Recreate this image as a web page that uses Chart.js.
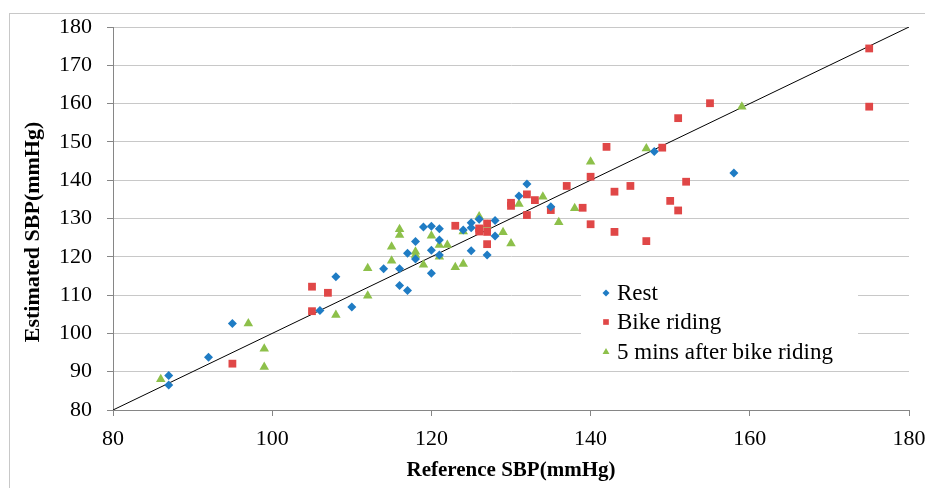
<!DOCTYPE html>
<html>
<head>
<meta charset="utf-8">
<script src="https://cdn.jsdelivr.net/npm/chart.js@4.4.1/dist/chart.umd.min.js"></script>
<style>
  html, body { margin: 0; padding: 0; background: #fff; }
  #wrap { width: 925px; height: 488px; position: relative; }
</style>
</head>
<body>
<div id="wrap"><canvas id="chart"></canvas></div>
<script>
// values
const seriesNames = ['Rest', 'Bike riding', '5 mins after bike riding'];
const xTitle = 'Reference SBP(mmHg)';
const yTitle = 'Estimated SBP(mmHg)';

const restX = [87, 87, 92, 95, 106, 108, 110, 114, 116, 116, 117, 117, 118, 118, 119, 120, 121, 121, 120, 121, 120, 124, 125, 125, 126, 127, 125, 128, 128, 131, 132, 135, 148, 158];
const restY = [89, 86.5, 93.8, 102.6, 106, 114.8, 106.9, 116.9, 116.9, 112.5, 111.2, 120.9, 124, 119.4, 127.8, 128, 127.3, 124.4, 121.7, 120.5, 115.7, 127, 128.9, 127.6, 129.8, 120.5, 121.6, 129.5, 125.4, 135.9, 139, 133.1, 147.5, 141.9];

const bikeX = [95, 105, 107, 105, 123, 126, 126, 127, 127, 127, 130, 130, 132, 132, 133, 135, 137, 139, 140, 140, 142, 143, 143, 145, 147, 149, 150, 151, 151, 152, 155, 175, 175];
const bikeY = [92.1, 112.2, 110.6, 105.8, 128.1, 127.4, 126.6, 128.7, 126.5, 123.3, 134.1, 133.3, 136.3, 130.9, 134.8, 132.2, 138.5, 132.8, 140.9, 128.5, 148.7, 137, 126.5, 138.5, 124.1, 148.5, 134.6, 156.2, 132.1, 139.6, 160.1, 174.4, 159.2];

const afterX = [86, 97, 99, 99, 108, 112, 112, 115, 115, 116, 116, 118, 118, 119, 120, 121, 121, 122, 123, 124, 124, 126, 127, 129, 130, 131, 134, 136, 138, 140, 147, 159];
const afterY = [88, 102.6, 96, 91.2, 104.8, 117, 109.8, 119, 122.6, 127.2, 125.7, 121.3, 120.5, 117.9, 125.5, 123.1, 120, 123.1, 117.3, 126.6, 118.1, 130.5, 128.3, 126.4, 123.5, 133.8, 135.7, 129, 132.7, 144.8, 148.3, 159.2];

const lineX = [80, 180];
const lineY = [80, 180];

const xTicks = [80, 100, 120, 140, 160, 180];
const yTicks = [80, 90, 100, 110, 120, 130, 140, 150, 160, 170, 180];

const toPoints = (xs, ys) => xs.map((x, i) => ({ x, y: ys[i] }));

const serif = "'Liberation Serif', 'Times New Roman', serif";

// outer light grey frame behind the chart
const framePlugin = {
  id: 'frame',
  beforeDraw(chart) {
    const ctx = chart.ctx;
    ctx.save();
    ctx.fillStyle = '#fff';
    ctx.fillRect(0, 0, chart.width, chart.height);
    ctx.strokeStyle = '#c8c8c8';
    ctx.lineWidth = 1;
    ctx.strokeRect(9.5, 13.5, chart.width, chart.height);
    ctx.restore();
  },
  // y title sits a bit below the plot middle in the original
  afterDraw(chart) {
    const ctx = chart.ctx;
    ctx.save();
    ctx.translate(33, 232);
    ctx.rotate(-Math.PI / 2);
    ctx.font = 'bold 22px ' + serif;
    ctx.fillStyle = '#000';
    ctx.textAlign = 'center';
    ctx.textBaseline = 'middle';
    ctx.fillText(yTitle, 0, 0);
    ctx.restore();
  }
};

// legend box sitting inside the plot, lower right
const boxLegend = {
  id: 'boxLegend',
  afterDatasetsDraw(chart) {
    const ctx = chart.ctx;
    ctx.save();
    ctx.fillStyle = '#fff';
    ctx.fillRect(581, 280, 277, 86);
    ctx.font = '23px ' + serif;
    ctx.textBaseline = 'middle';
    const rows = [293, 322, 352];
    [0, 1, 2].forEach((i) => {
      const ds = chart.data.datasets[i];
      ctx.fillStyle = ds.backgroundColor;
      ctx.strokeStyle = ds.borderColor;
      Chart.helpers.drawPoint(ctx, {
        pointStyle: ds.pointStyle,
        radius: i === 0 ? 3.5 : 4,
        borderWidth: 0,
        rotation: 0
      }, 606, rows[i]);
      ctx.fillStyle = '#000';
      ctx.fillText(ds.label, 617, rows[i] + 1);
    });
    ctx.restore();
  }
};

new Chart(document.getElementById('chart'), {
  type: 'scatter',
  data: {
    datasets: [
      {
        label: seriesNames[0],
        data: toPoints(restX, restY),
        pointStyle: 'rectRot',
        pointRadius: 4.5,
        backgroundColor: '#1f7cc4',
        borderColor: '#1f7cc4',
        borderWidth: 0
      },
      {
        label: seriesNames[1],
        data: toPoints(bikeX, bikeY),
        pointStyle: 'rect',
        pointRadius: 5.5,
        backgroundColor: '#e04747',
        borderColor: '#e04747',
        borderWidth: 0
      },
      {
        label: seriesNames[2],
        data: toPoints(afterX, afterY),
        pointStyle: 'triangle',
        pointRadius: 5.5,
        backgroundColor: '#8dc04a',
        borderColor: '#8dc04a',
        borderWidth: 0
      },
      {
        type: 'line',
        label: 'y = x',
        data: toPoints(lineX, lineY),
        borderColor: '#000',
        borderWidth: 1,
        pointRadius: 0,
        fill: false
      }
    ]
  },
  options: {
    responsive: true,
    maintainAspectRatio: false,
    animation: false,
    layout: { padding: { left: 10, top: 27, right: 16, bottom: 0 } },
    plugins: {
      legend: { display: false },
      tooltip: { enabled: false }
    },
    scales: {
      x: {
        type: 'linear',
        min: 80,
        max: 180,
        afterBuildTicks: (scale) => { scale.ticks = xTicks.map((v) => ({ value: v })); },
        afterFit: (scale) => {
          scale.height = 78;
          scale.paddingLeft = 0;
          scale.paddingRight = 0;
        },
        grid: { drawOnChartArea: false, drawTicks: true, tickLength: 6, color: '#868686' },
        border: { display: true, color: '#868686' },
        ticks: { color: '#000', font: { family: serif, size: 22 }, padding: 10 },
        title: {
          display: true,
          text: xTitle,
          color: '#000',
          font: { family: serif, size: 21, weight: 'bold' },
          padding: { top: 0, bottom: 5 }
        }
      },
      y: {
        type: 'linear',
        min: 80,
        max: 180,
        afterBuildTicks: (scale) => { scale.ticks = yTicks.map((v) => ({ value: v })); },
        afterFit: (scale) => {
          scale.width = 103;
          scale.paddingTop = 0;
          scale.paddingBottom = 0;
        },
        grid: {
          color: (c) => (c.tick && c.tick.value === 80 ? '#868686' : '#c8c8c8'),
          tickColor: '#868686',
          tickLength: 6
        },
        border: { display: true, color: '#868686' },
        ticks: { color: '#000', font: { family: serif, size: 22 }, padding: 15 },
        title: { display: false }
      }
    }
  },
  plugins: [framePlugin, boxLegend]
});
</script>
</body>
</html>
